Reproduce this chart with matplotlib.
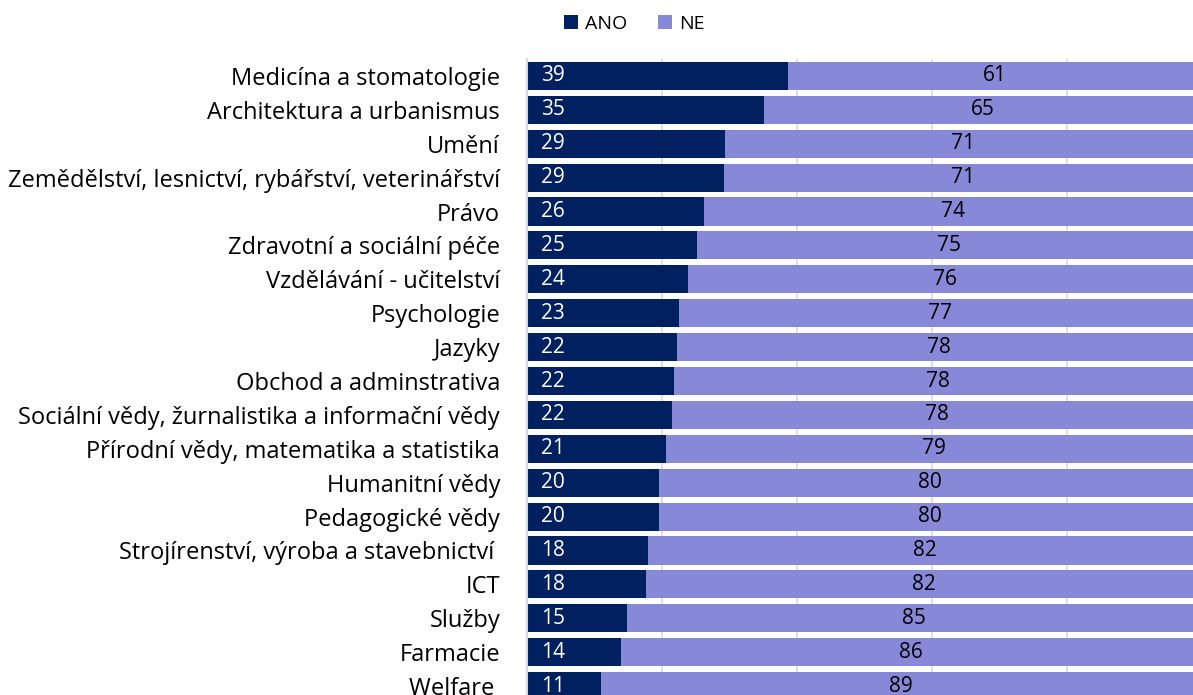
import matplotlib.pyplot as plt
import numpy as np

# obory a podíly odpovědí (%)
obory = [
    'Medicína a stomatologie',
    'Architektura a urbanismus',
    'Umění',
    'Zemědělství, lesnictví, rybářství, veterinářství',
    'Právo',
    'Zdravotní a sociální péče',
    'Vzdělávání - učitelství',
    'Psychologie',
    'Jazyky',
    'Obchod a adminstrativa',
    'Sociální vědy, žurnalistika a informační vědy',
    'Přírodní vědy, matematika a statistika',
    'Humanitní vědy',
    'Pedagogické vědy',
    'Strojírenství, výroba a stavebnictví ',
    'ICT',
    'Služby',
    'Farmacie',
    'Welfare ',
]
ano = [38.7, 35.2, 29.4, 29.2, 26.3, 25.3, 23.9, 22.6, 22.3, 21.9,
       21.6, 20.7, 19.6, 19.6, 18.0, 17.7, 14.9, 14.0, 11.0]
ne = [61.3, 64.8, 70.6, 70.8, 73.7, 74.7, 76.1, 77.4, 77.7, 78.1,
      78.4, 79.3, 80.4, 80.4, 82.0, 82.3, 85.1, 86.0, 89.0]

c_ano = '#002060'
c_ne = '#8888D8'

plt.rcParams['font.family'] = ['Open Sans', 'DejaVu Sans']

fig = plt.figure(figsize=(11.93, 6.95), dpi=100)
# plot area runs a bit past the right and bottom edge of the figure
ax = fig.add_axes([526.5 / 1193, 1 - 703 / 695, 675 / 1193, 644 / 695])

y = np.arange(len(obory))
h = 0.83
b1 = ax.barh(y, ano, height=h, color=c_ano, label='ANO', zorder=3)
b2 = ax.barh(y, ne, left=ano, height=h, color=c_ne, label='NE', zorder=3)

for i in range(len(obory)):
    ax.text(2.2, y[i], f'{ano[i]:.0f}', color='white', fontsize=15,
            va='center', ha='left', zorder=4)
    ax.text(ano[i] + ne[i] / 2, y[i], f'{ne[i]:.0f}', color='black',
            fontsize=15, va='center', ha='center', zorder=4)

ax.set_xlim(0, 100)
ax.set_ylim(len(obory) - 0.5, -0.5)
ax.set_yticks(y)
ax.set_yticklabels(obory, fontsize=17)
ax.set_xticks([20, 40, 60, 80])
ax.tick_params(axis='y', length=0, pad=19)
ax.tick_params(axis='x', length=0, labelbottom=False)
ax.grid(axis='x', color='#D9D9D9', lw=1.2, zorder=0)

for s in ['top', 'right', 'bottom']:
    ax.spines[s].set_visible(False)
ax.spines['left'].set_color('#D9D9D9')
ax.spines['left'].set_linewidth(1.5)
ax.spines['left'].set_zorder(5)

fig.legend(handles=[b1, b2], loc='center', bbox_to_anchor=(634 / 1193, 1 - 24 / 695),
           ncol=2, frameon=False, fontsize=14, handlelength=0.72,
           handleheight=0.72, handletextpad=0.35, columnspacing=1.6)

fig.savefig('out.png', dpi=100)
